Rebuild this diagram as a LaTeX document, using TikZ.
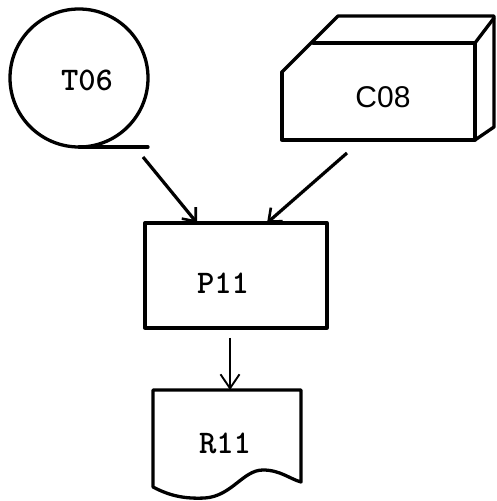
\documentclass[tikz,border=0pt]{standalone}
\usepackage{fontspec}
\newfontfamily\boxsans{Liberation Sans}
\usetikzlibrary{arrows.meta}
\tikzset{
  shapeline/.style={line width=3.3pt, line join=round, line cap=round},
  ttlabel/.style={font=\fontsize{33}{33}\selectfont\ttfamily\bfseries, inner sep=0pt},
  sflabel/.style={font=\fontsize{30}{30}\selectfont\boxsans, inner sep=0pt},
  holder/.style={rectangle, inner sep=0pt, outer sep=0pt},
  thickarrow/.style={line width=3.2pt, -{Straight Barb[length=11pt,width=18pt,line width=2.6pt]}},
  thinarrow/.style={line width=1.9pt, -{Straight Barb[length=14pt,width=19pt,line width=1.9pt]}}
}
\begin{document}
\begin{tikzpicture}[x=1pt,y=1pt]
\useasboundingbox (0,0) rectangle (496,501);
% tape T06
\node[circle, draw, shapeline, minimum size=138pt, inner sep=0pt, outer sep=0pt] (t06) at (79,423) {};
\node[ttlabel] (t06text) at (87,421) {T06};
\draw[shapeline] (t06.south) -- ++(69,0);
% box C08
\node[holder, minimum width=193pt, minimum height=97pt] (c08) at (378.5,409.5) {};
\node[sflabel] (c08text) at (383,404) {C08};
\draw[shapeline] (282,429) -- (282,361) -- (475,361) -- (475,458) -- (313,458);
\draw[shapeline] (282,429) -- (338,485) -- (494,485) -- (494,374) -- (475,361);
\draw[shapeline] (475,458) -- (494,483);
% process P11
\node[holder, draw, shapeline, minimum width=182pt, minimum height=105pt] (p11) at (236,225.5) {};
\node[ttlabel] (p11text) at (223,218) {P11};
% report R11
\node[holder, minimum width=148pt, minimum height=97pt] (r11) at (227,62.5) {};
\node[ttlabel] (r11text) at (225,58) {R11};
\draw[shapeline] (r11.north west) -- (153,14) .. controls (170,5) and (185,2) .. (205,3)
  .. controls (232,5) and (243,31) .. (263,31) .. controls (280,31) and (290,22) .. (301,19)
  -- (r11.north east) -- cycle;
% connectors
\draw[thickarrow] ([shift={(64pt,-79pt)}]t06.center) -- ([xshift=-39pt]p11.north);
\draw[thickarrow] ([shift={(-31.5pt,-13pt)}]c08.south) -- ([xshift=31pt]p11.north);
\draw[thinarrow] ([shift={(-6pt,-10pt)}]p11.south) -- ([xshift=3pt]r11.north);
\end{tikzpicture}
\end{document}
